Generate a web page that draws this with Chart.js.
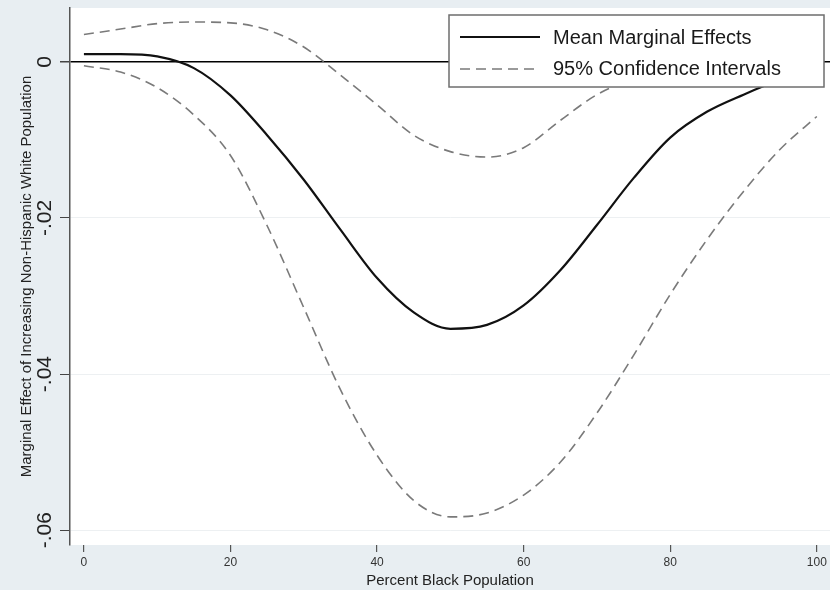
<!DOCTYPE html>
<html>
<head>
<meta charset="utf-8">
<script src="https://cdn.jsdelivr.net/npm/chart.js@4/dist/chart.umd.min.js"></script>
<style>
  html, body { margin: 0; padding: 0; background: #e8eef2; }
  canvas { display: block; }
</style>
</head>
<body>
<canvas id="chart" width="830" height="590"></canvas>
<script>
let pctBlack = [0, 5, 10, 15, 20, 25, 30, 35, 40, 45, 50, 55, 60, 65, 70, 75, 80, 85, 90, 95, 100];
let meanEffect = [0.0010, 0.0010, 0.0007, -0.0008, -0.0043, -0.0094, -0.0151, -0.0215, -0.0277, -0.0321, -0.0342,
    -0.0337, -0.0312, -0.0267, -0.0209, -0.0149, -0.0097, -0.0064, -0.0042, -0.0023, -0.0008];
let upperCI = [0.0035, 0.0042, 0.0049, 0.0051, 0.0050, 0.0041, 0.0019, -0.0017, -0.0055, -0.0094, -0.0115,
    -0.0122, -0.0110, -0.0075, -0.0042, -0.0022, -0.0008, 0.0005, 0.0013, 0.0018, 0.0022];
let lowerCI = [-0.0005, -0.0013, -0.0033, -0.0068, -0.0120, -0.0210, -0.0315, -0.0420, -0.0504, -0.0562, -0.0583,
    -0.0578, -0.0555, -0.0513, -0.0450, -0.0376, -0.0298, -0.0228, -0.0166, -0.0112, -0.0070];

let xTicks = [0, 20, 40, 60, 80, 100];
let yTicks = [0, -0.02, -0.04, -0.06];
let yTickLabels = ["0", "-.02", "-.04", "-.06"];
let legendLabels = ["Mean Marginal Effects", "95% Confidence Intervals"];

const FONT = "'Liberation Sans', Arial, Helvetica, sans-serif";

function toPoints(values) {
    return pctBlack.map((x, i) => ({x: x, y: values[i]}));
}

// white plot region behind everything
const plotBg = {
    id: "plotBg",
    beforeDraw(chart) {
        let {ctx, chartArea: a} = chart;
        ctx.save();
        ctx.fillStyle = "#ffffff";
        ctx.fillRect(a.left, a.top, a.right - a.left, a.bottom - a.top);
        ctx.restore();
    }
};

// rotated y tick labels + framed legend box
const extras = {
    id: "extras",
    afterDraw(chart) {
        let ctx = chart.ctx;
        let ys = chart.scales.y;

        ctx.save();
        ctx.fillStyle = "#222";
        ctx.font = "21px " + FONT;
        ctx.textAlign = "center";
        ctx.textBaseline = "middle";
        yTicks.forEach((v, i) => {
            let py = ys.getPixelForValue(v);
            ctx.save();
            ctx.translate(45, py);
            ctx.rotate(-Math.PI / 2);
            ctx.fillText(yTickLabels[i], 0, 0);
            ctx.restore();
        });
        ctx.restore();

        // legend
        ctx.save();
        ctx.fillStyle = "#ffffff";
        ctx.fillRect(449, 15, 375, 72);
        ctx.strokeStyle = "#6e6e6e";
        ctx.lineWidth = 1.5;
        ctx.strokeRect(449, 15, 375, 72);

        ctx.lineWidth = 2.2;
        ctx.strokeStyle = "#111";
        ctx.beginPath();
        ctx.moveTo(460, 37);
        ctx.lineTo(540, 37);
        ctx.stroke();

        ctx.lineWidth = 1.6;
        ctx.strokeStyle = "#7a7a7a";
        ctx.setLineDash([10, 6]);
        ctx.beginPath();
        ctx.moveTo(460, 69);
        ctx.lineTo(540, 69);
        ctx.stroke();
        ctx.setLineDash([]);

        ctx.fillStyle = "#1a1a1a";
        ctx.font = "20px " + FONT;
        ctx.textAlign = "left";
        ctx.textBaseline = "middle";
        ctx.fillText(legendLabels[0], 553, 38);
        ctx.fillText(legendLabels[1], 553, 69);
        ctx.restore();
    }
};

let chart = new Chart(document.getElementById("chart").getContext("2d"), {
    type: "line",
    data: {
        datasets: [
            {
                label: legendLabels[0],
                data: toPoints(meanEffect),
                borderColor: "#111",
                borderWidth: 2.2,
                cubicInterpolationMode: "monotone",
                pointRadius: 0
            },
            {
                label: legendLabels[1],
                data: toPoints(upperCI),
                borderColor: "#7a7a7a",
                borderDash: [10, 6],
                borderWidth: 1.6,
                cubicInterpolationMode: "monotone",
                pointRadius: 0
            },
            {
                label: "lower",
                data: toPoints(lowerCI),
                borderColor: "#7a7a7a",
                borderDash: [10, 6],
                borderWidth: 1.6,
                cubicInterpolationMode: "monotone",
                pointRadius: 0
            }
        ]
    },
    options: {
        responsive: false,
        animation: false,
        layout: {padding: {top: 8, right: 0, left: 0, bottom: 0}},
        plugins: {
            legend: {display: false},
            tooltip: {enabled: false}
        },
        scales: {
            x: {
                type: "linear",
                min: -1.9,
                max: 101.8,
                afterBuildTicks: s => { s.ticks = xTicks.map(v => ({value: v})); },
                afterFit: s => { s.height = 45; },
                border: {display: false},
                grid: {
                    drawOnChartArea: false,
                    drawTicks: true,
                    tickLength: 7,
                    color: "#555",
                    lineWidth: 1.2
                },
                ticks: {
                    padding: 3,
                    color: "#333",
                    font: {family: FONT, size: 12},
                    maxRotation: 0
                },
                title: {
                    display: true,
                    text: "Percent Black Population",
                    color: "#222",
                    font: {family: FONT, size: 15},
                    padding: {top: 0, bottom: 0}
                }
            },
            y: {
                type: "linear",
                min: -0.0619,
                max: 0.0069,
                afterBuildTicks: s => { s.ticks = yTicks.map(v => ({value: v})); },
                afterFit: s => { s.width = 70; },
                border: {display: true, color: "#555", width: 1.5},
                grid: {
                    color: c => (c.tick && c.tick.value === 0) ? "#000" : "#edf0f2",
                    lineWidth: c => (c.tick && c.tick.value === 0) ? 1.5 : 1,
                    tickColor: "#444",
                    tickLength: 10,
                    drawTicks: true
                },
                ticks: {display: false},
                title: {
                    display: true,
                    text: "Marginal Effect of Increasing Non-Hispanic White Population",
                    color: "#222",
                    font: {family: FONT, size: 15},
                    padding: {top: 18, bottom: 0}
                }
            }
        }
    },
    plugins: [plotBg, extras]
});
</script>
</body>
</html>
